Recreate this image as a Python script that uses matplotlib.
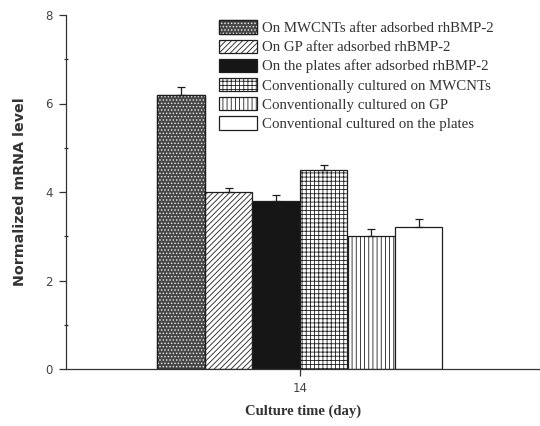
import matplotlib
matplotlib.use("Agg")
import matplotlib.pyplot as plt
import numpy as np

# data
groups = [
    "On MWCNTs after adsorbed rhBMP-2",
    "On GP after adsorbed rhBMP-2",
    "On the plates after adsorbed rhBMP-2",
    "Conventionally cultured on MWCNTs",
    "Conventionally cultured on GP",
    "Conventional cultured on the plates",
]
values = [6.2, 4.0, 3.8, 4.5, 3.0, 3.2]
errors = [0.17, 0.1, 0.13, 0.1, 0.17, 0.19]
day = 14

hatches = ["", "//////", "", "++++", "||||", ""]
faces = ["#474747", "white", "#161616", "white", "white", "white"]
edge = "#1e1e1e"

plt.rcParams["hatch.linewidth"] = 0.6

fig = plt.figure(figsize=(5.4, 4.26), dpi=100)
ax = fig.add_axes([66 / 540, 57 / 426, 474 / 540, 354 / 426])

width = 0.1
n = len(values)
offsets = (np.arange(n) - (n - 1) / 2) * width
handles = []
for i in range(n):
    b = ax.bar(day + offsets[i], values[i], width, color=faces[i], edgecolor=edge,
               hatch=hatches[i], linewidth=0.9, zorder=2)
    h = b.patches[0]
    if i == 0:
        # white dots over dark fill -> checker look of the first bar
        dots = ax.bar(day + offsets[i], values[i], width, facecolor="none",
                      edgecolor="#eeeeee", hatch=".....", linewidth=0, zorder=2.5)
        rim = ax.bar(day + offsets[i], values[i], width, facecolor="none",
                     edgecolor=edge, linewidth=0.9, zorder=2.6)
        h = (h, dots.patches[0], rim.patches[0])
    handles.append(h)
    ax.errorbar(day + offsets[i], values[i], yerr=[[0], [errors[i]]], fmt="none",
                ecolor=edge, elinewidth=0.9, capsize=3, capthick=0.9, zorder=3)

ax.set_xlim(day - 234 / 475, day + 240 / 475)
ax.set_ylim(0, 8)
ax.set_yticks([0, 2, 4, 6, 8])
ax.set_yticks([1, 3, 5, 7], minor=True)
ax.set_xticks([day])

for s in ["top", "right"]:
    ax.spines[s].set_visible(False)
for s in ["left", "bottom"]:
    ax.spines[s].set_color("#333333")
    ax.spines[s].set_linewidth(0.9)

ax.tick_params(axis="both", which="major", direction="out", length=5, width=0.9,
               color="#333333", labelsize=8.5, labelcolor="#444444", pad=4.5)
ax.tick_params(axis="y", which="minor", direction="inout", length=3, width=0.9, color="#333333")

ax.set_ylabel("Normalized mRNA level", fontsize=10.3, fontweight="bold", color="#333333", labelpad=13)
ax.set_xlabel("Culture time (day)", fontsize=10.5, fontweight="bold", family="Liberation Serif",
              color="#333333", labelpad=7)

leg = ax.legend(handles, groups, loc="upper left", bbox_to_anchor=(0.308, 1.006), frameon=False,
                prop={"family": "Liberation Serif", "size": 10.7}, handlelength=2.55,
                handleheight=1.0, handletextpad=0.3, labelspacing=0.3, borderaxespad=0.1)
for t in leg.get_texts():
    t.set_color("#333333")

fig.savefig("out.png", dpi=100)
